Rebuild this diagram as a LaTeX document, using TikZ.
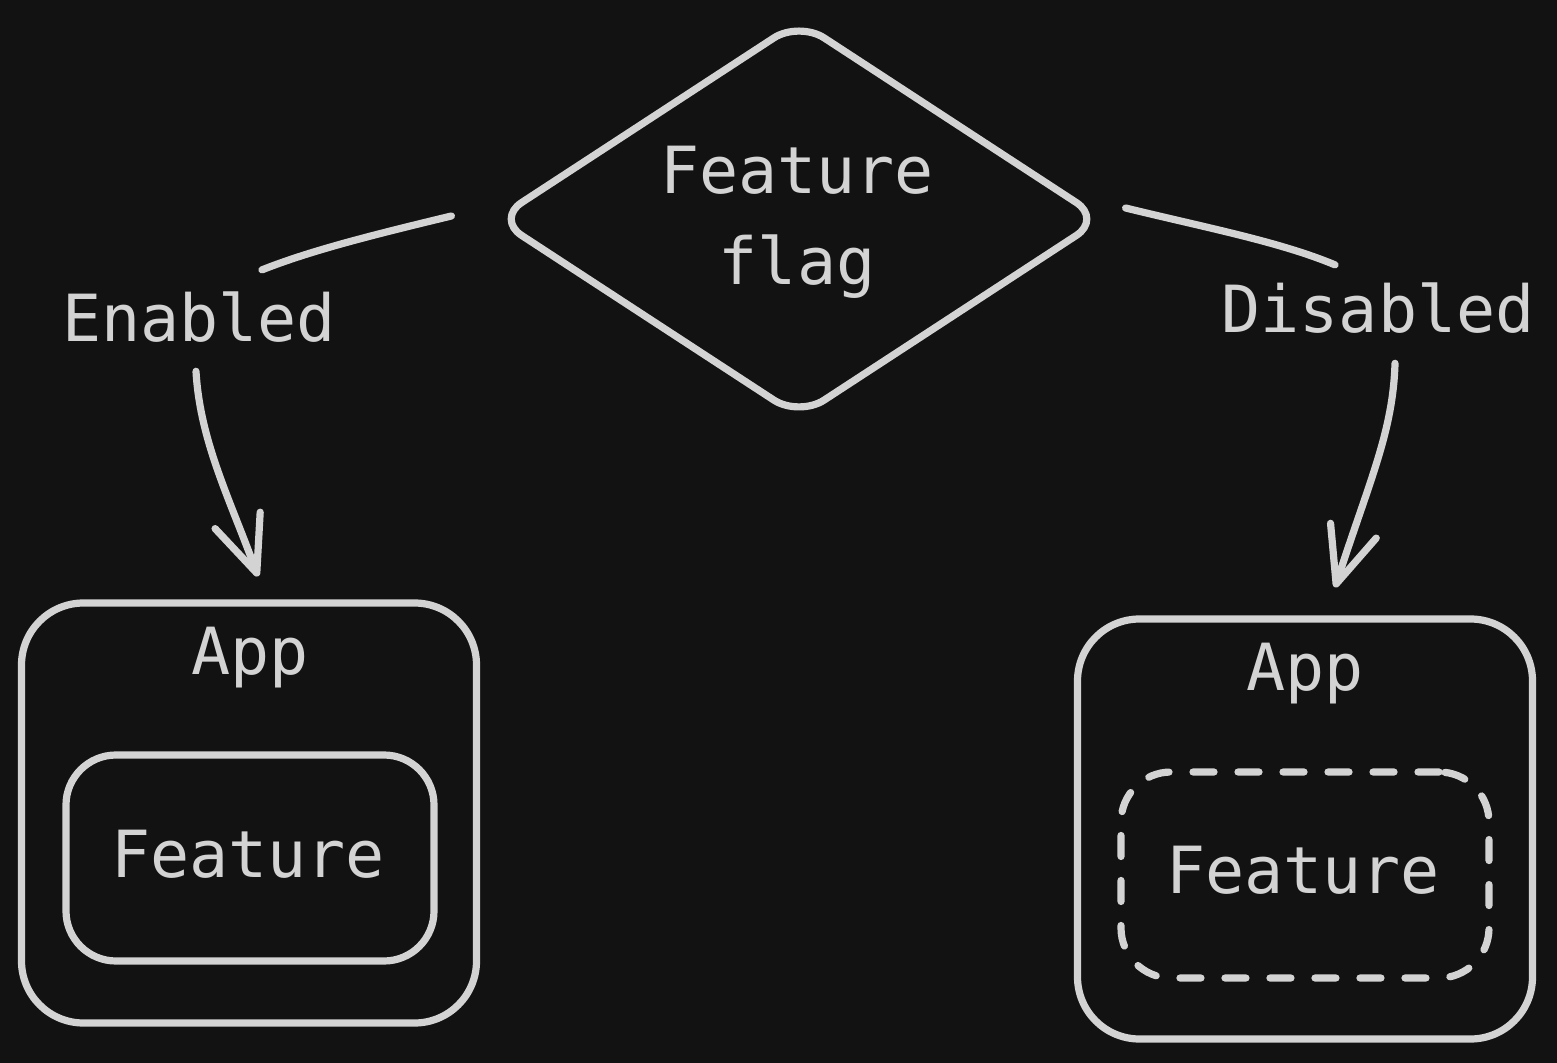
\documentclass[tikz,border=0pt]{standalone}
\usepackage{fontspec}
\usepackage{tikz}
\usetikzlibrary{shapes.geometric,arrows.meta,calc}
\newfontfamily\sketchfont{DejaVu Sans Mono}
\definecolor{bg}{HTML}{121212}
\definecolor{ink}{HTML}{D3D3D3}

\begin{document}
\begin{tikzpicture}[x=0.5pt,y=-0.5pt,
	inkline/.style={draw=ink, line width=3.6pt, line cap=round, line join=round},
	label/.style={text=ink, font=\sketchfont\fontsize{32.5}{45.5}\selectfont, inner sep=0pt, anchor=base},
	appbox/.style={inkline, rounded corners=31pt, minimum width=227.5pt, minimum height=210pt},
	featbox/.style={inkline, rounded corners=25pt, minimum width=184pt, minimum height=103pt},
	flow/.style={inkline, -{Straight Barb[length=28pt,width=24pt,round]}}]

\fill[bg] (0,0) rectangle (1557,1063);
\useasboundingbox (0,0) rectangle (1557,1063);

% decision
\node[inkline, diamond, rounded corners=15pt, minimum width=304pt, minimum height=199pt, inner sep=0pt] (flag) at (799,219) {};
\node[label, align=center, anchor=north] (flagtext) at (797,146) {Feature\\flag};

% branch labels
\node[label] (enabled) at (199,342) {Enabled};
\node[label] (disabled) at (1378,333) {Disabled};

% left side: feature on
\node[appbox] (appon) at (249,813) {};
\node[label] (appontext) at (250,674) {App};
\node[featbox] (featon) at (250,858) {};
\node[label] (featontext) at (248,877) {Feature};

% right side: feature off
\node[appbox] (appoff) at (1305,829) {};
\node[label] (appofftext) at (1305,690) {App};
\node[featbox, dash pattern=on 10.5pt off 12pt] (featoff) at (1305,875) {};
\node[label] (featofftext) at (1303,893) {Feature};

% connector ends
\coordinate (enA) at ($(flag.west)+(-40,-3)$);
\coordinate (enB) at ($(enabled.north)+(63,-22)$);
\coordinate (enC) at ($(enabled.south)+(-3,28)$);
\coordinate (enD) at ($(appon.north)+(9,-23)$);
\coordinate (disA) at ($(flag.east)+(19,-11)$);
\coordinate (disB) at ($(disabled.north)+(-43,-18)$);
\coordinate (disC) at ($(disabled.south)+(17,29)$);
\coordinate (disD) at ($(appoff.north)+(30,-28)$);

\draw[inkline] (enA) .. controls +(-83,20) and +(48,-19) .. (enB);
\draw[flow] (enC) .. controls +(4,70) and +(-28,-77) .. (enD);
\draw[inkline] (disA) .. controls +(82,20) and +(-55,-23) .. (disB);
\draw[flow] (disC) .. controls +(-2,68) and +(35,-108) .. (disD);

\end{tikzpicture}
\end{document}
